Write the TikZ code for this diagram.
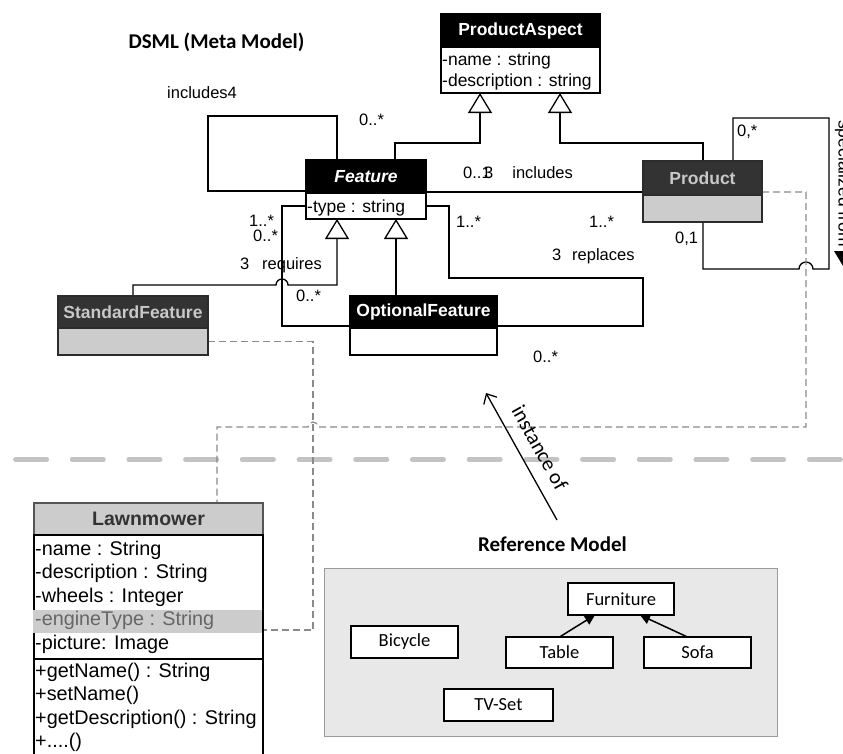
\documentclass[tikz,border=0pt]{standalone}
\usepackage{fontspec}
\setmainfont{Liberation Sans}
\newfontfamily\calfont{Carlito}
\usetikzlibrary{arrows.meta,calc}
\pgfdeclarelayer{bg}
\pgfsetlayers{bg,main}

\definecolor{hdrgray}{HTML}{333333}
\definecolor{edgegray}{HTML}{2B2B2B}
\definecolor{titlegray}{HTML}{C8C8C8}
\definecolor{bodyfill}{HTML}{CCCCCC}
\definecolor{lmedge}{HTML}{555555}
\definecolor{lmtext}{HTML}{333333}
\definecolor{engtext}{HTML}{666666}
\definecolor{dashgray}{HTML}{8A8A8A}
\definecolor{sepgray}{HTML}{C3C3C3}
\definecolor{reffill}{HTML}{E8E8E8}
\definecolor{refedge}{HTML}{9A9A9A}

\tikzset{
  hdrblack/.style={draw=black, fill=black, text=white, line width=1.4pt,
    minimum height=33pt, inner sep=0pt, outer sep=0pt, anchor=north west,
    font=\fontsize{17.5}{21}\selectfont\bfseries},
  hdrdark/.style={hdrblack, fill=hdrgray, draw=edgegray, text=titlegray},
  bodywhite/.style={draw=black, fill=white, line width=1.4pt, inner sep=0pt,
    outer sep=0pt, anchor=north west},
  bodygray/.style={bodywhite, fill=bodyfill, draw=edgegray},
  attr/.style={anchor=base west, inner sep=0pt, font=\fontsize{17.5}{21}\selectfont},
  lmattr/.style={anchor=base west, inner sep=0pt, font=\fontsize{19.8}{23.5}\selectfont},
  mult/.style={anchor=base west, inner sep=0pt, font=\fontsize{16.5}{19}\selectfont},
  assoc/.style={draw=black, line width=1.3pt},
  gen/.style={assoc, -{Triangle[open, length=20pt, width=24pt]}},
  inst/.style={draw=dashgray, line width=1.2pt, dash pattern=on 7pt off 4pt},
  sepline/.style={draw=sepgray, line width=4.5pt, line cap=round,
    dash pattern=on 31.5pt off 25.2pt},
  refbox/.style={draw=black, fill=white, line width=1.6pt, inner sep=0pt,
    outer sep=0pt, minimum height=32pt, anchor=north west,
    font=\calfont\fontsize{18.5}{22}\selectfont},
  refarrow/.style={assoc, line width=1.5pt, -{Triangle[length=10pt, width=10pt]}},
  calhead/.style={inner sep=0pt, font=\calfont\bfseries\fontsize{21}{25}\selectfont},
}

\begin{document}
\begin{tikzpicture}[x=1pt,y=-1pt]
\useasboundingbox (0,0) rectangle (843,753);

% ---------- meta model classes ----------
\node[calhead, anchor=base] (title) at (216.5,48) {DSML (Meta Model)};

\node[hdrblack, minimum width=159pt] (pah) at (441,14) {ProductAspect};
\node[bodywhite, minimum width=159pt, minimum height=46pt] (pab) at (pah.south west) {};
\node[attr] (pa1) at (442,65) {-name : string};
\node[attr] (pa2) at (442,86) {-description : string};

\node[hdrblack, minimum width=120pt,
      font=\fontsize{17.5}{21}\selectfont\bfseries\itshape] (feh) at (306,160) {Feature};
\node[bodywhite, minimum width=120pt, minimum height=26pt] (feb) at (feh.south west) {};
\node[attr] (fe1) at (307,212) {-type : string};

\node[hdrdark, minimum width=119pt, minimum height=34pt] (prh) at (643,161) {Product};
\node[bodygray, minimum width=119pt, minimum height=27pt] (prb) at (prh.south west) {};

\node[hdrdark, minimum width=150pt, minimum height=32pt] (sfh) at (58,296) {StandardFeature};
\node[bodygray, minimum width=150pt, minimum height=27pt] (sfb) at (sfh.south west) {};

\node[hdrblack, minimum width=147pt, minimum height=32pt] (ofh) at (350,296) {OptionalFeature};
\node[bodywhite, minimum width=147pt, minimum height=27pt] (ofb) at (ofh.south west) {};

% ---------- model class ----------
\node[hdrblack, fill=bodyfill, draw=lmedge, text=lmtext, minimum width=229pt,
      minimum height=32pt, font=\fontsize{19.5}{23}\selectfont\bfseries] (lmh) at (34,503) {Lawnmower};
\node[bodywhite, minimum width=229pt, minimum height=124pt] (lma) at (lmh.south west) {};
\node[bodywhite, minimum width=229pt, minimum height=120pt] (lmm) at (lma.south west) {};
\fill[bodyfill] (32.5,610) rectangle (262.3,633);
\node[lmattr] (lm1) at (35,555) {-name : String};
\node[lmattr] (lm2) at (35,578.5) {-description : String};
\node[lmattr] (lm3) at (35,602) {-wheels : Integer};
\node[lmattr, text=engtext] (lm4) at (35,625.5) {-engineType : String};
\node[lmattr] (lm5) at (35,649) {-picture: Image};
\node[lmattr] (lm6) at (35,677) {+getName() : String};
\node[lmattr] (lm7) at (35,700.5) {+setName()};
\node[lmattr] (lm8) at (35,724) {+getDescription() : String};
\node[lmattr] (lm9) at (35,747.5) {+....()};

% ---------- reference model ----------
\node[calhead, anchor=base west] (reftitle) at (478,551) {Reference Model};
\node[draw=refedge, fill=reffill, line width=1.4pt, minimum width=453pt,
      minimum height=168pt, anchor=north west, inner sep=0pt] (refarea) at (324,568) {};
\node[refbox, minimum width=106pt] (fur) at (568,583) {Furniture};
\node[refbox, minimum width=107pt] (bic) at (351,626) {Bicycle};
\node[refbox, minimum width=107pt, minimum height=31pt] (tbl) at (506,637) {Table};
\node[refbox, minimum width=107pt, minimum height=31pt] (sofa) at (644,637) {Sofa};
\node[refbox, minimum width=109pt] (tv) at (444,689) {TV-Set};
\draw[refarrow] (tbl.north) -- ($(fur.south)+(-26,0)$);
\draw[refarrow] ($(sofa.north)+(-10,0)$) -- ($(fur.south)+(19,0)$);

% ---------- connectors ----------
\coordinate (g1a) at (395,143);  \coordinate (g1) at (480,143);
\coordinate (g2a) at (703,143);  \coordinate (g2) at (560,143);
\coordinate (g3a) at (133,285);  \coordinate (g3) at (337,285);
\coordinate (hop1) at (282,285);
\coordinate (g4) at (396,239);
\coordinate (fl1) at (337,116);  \coordinate (fl2) at (208,116);  \coordinate (fl3) at (208,191);
\coordinate (inc) at (430,192);
\coordinate (rq1) at (282,205);  \coordinate (rq2) at (282,326);
\coordinate (rp1) at (449,278);  \coordinate (rp2) at (643,278);  \coordinate (rp3) at (643,326);
\coordinate (sp1) at (733,118);  \coordinate (sp2) at (829,118);  \coordinate (sp3) at (829,269);
\coordinate (hop2) at (806,269); \coordinate (sp4) at (703,269);
\coordinate (d1) at (806,192);   \coordinate (d2) at (806,427);
\coordinate (hop3) at (313,427); \coordinate (d3) at (217,427);
\coordinate (e1) at (313,341);   \coordinate (e2) at (313,630);
\coordinate (sepa) at (15.3,459.5); \coordinate (sepb) at (850,459.5);

\begin{pgfonlayer}{bg}
  \draw[sepline] (sepa) -- (sepb);

  % generalisations
  \draw[gen] (g1a |- feh.north) -- (g1a) -- (g1) -- (g1 |- pab.south);
  \draw[gen] (g2a |- prh.north) -- (g2a) -- (g2) -- (g2 |- pab.south);
  \draw[gen] (sfh.north -| g3a) -- (g3a) -- ($(hop1)+(-6,0)$)
    .. controls ($(hop1)+(-6,-3.3)$) and ($(hop1)+(-3.3,-6)$) .. ($(hop1)+(0,-6)$)
    .. controls ($(hop1)+(3.3,-6)$) and ($(hop1)+(6,-3.3)$) .. ($(hop1)+(6,0)$)
    -- (g3) -- (g3 |- feb.south);
  \draw[gen] (ofh.north -| g4) -- (feb.south -| g4);

  % associations
  \draw[assoc] (feh.north -| fl1) -- (fl1) -- (fl2) -- (fl3) -- (fl3 -| feh.west);
  \draw[assoc] (feh.east |- inc) -- (prh.west |- inc);
  \draw[assoc] (feb.west) -- (feb.west -| rq1) -- (rq2) -- (rq2 -| ofh.west);
  \draw[assoc] (feb.east) -- (feb.east -| rp1) -- (rp1) -- (rp2) -- (rp3) -- (rp3 -| ofh.east);
  \draw[assoc] (prh.north -| sp1) -- (sp1) -- (sp2) -- (sp3) -- ($(hop2)+(7,0)$)
    .. controls ($(hop2)+(7,-3.9)$) and ($(hop2)+(3.9,-7)$) .. ($(hop2)+(0,-7)$)
    .. controls ($(hop2)+(-3.9,-7)$) and ($(hop2)+(-7,-3.9)$) .. ($(hop2)+(-7,0)$)
    -- (sp4) -- (sp4 |- prb.south);

  % instance-of dependencies
  \draw[inst] (prh.east |- d1) -- (d1) -- (d2) -- ($(hop3)+(5,0)$)
    .. controls ($(hop3)+(5,-2.8)$) and ($(hop3)+(2.8,-5)$) .. ($(hop3)+(0,-5)$)
    .. controls ($(hop3)+(-2.8,-5)$) and ($(hop3)+(-5,-2.8)$) .. ($(hop3)+(-5,0)$)
    -- (d3) -- (d3 |- lmh.north);
  \draw[inst] (sfb.east) -- (sfb.east -| e1) -- (e2) -- (e2 -| lma.east);
\end{pgfonlayer}

% ---------- multiplicities and role names ----------
\node[mult] (m1) at (167,98) {includes4};
\node[mult] (m2) at (359,125) {0..*};
\node[mult] (m3) at (463,178) {0..1\kern-6.5pt3\hspace{19pt}includes};
\node[mult] (m4) at (249,226) {1..*};
\node[mult] (m5) at (253,241) {0..*};
\node[mult] (m6) at (456,227) {1..*};
\node[mult] (m7) at (589,227) {1..*};
\node[mult] (m8) at (240,269) {3\hspace{12.8pt}requires};
\node[mult] (m9) at (296,301) {0..*};
\node[mult] (m10) at (552,260) {3\hspace{10.8pt}replaces};
\node[mult] (m11) at (737,136) {0,*};
\node[mult] (m12) at (675,243) {0,1};
\node[mult] (m13) at (533,362) {0..*};

% specialisation label on the Product loop
\node[rotate=-90, anchor=base west, inner sep=0pt,
      font=\fontsize{17.5}{21}\selectfont] (spec) at (838.5,120) {specialized from};
\fill (834,251) -- (852,251) -- (843,266) -- cycle;

% ---------- instance-of arrow ----------
\coordinate (ia) at (557,520);
\coordinate (ib) at (486,393);
\draw[assoc, -{Straight Barb[length=8pt, width=15pt]}] (ia) -- (ib);
\node[rotate=-60.8, inner sep=0pt, font=\calfont\fontsize{21}{25}\selectfont] (instlbl)
  at (540,448) {instance of};

\end{tikzpicture}
\end{document}
